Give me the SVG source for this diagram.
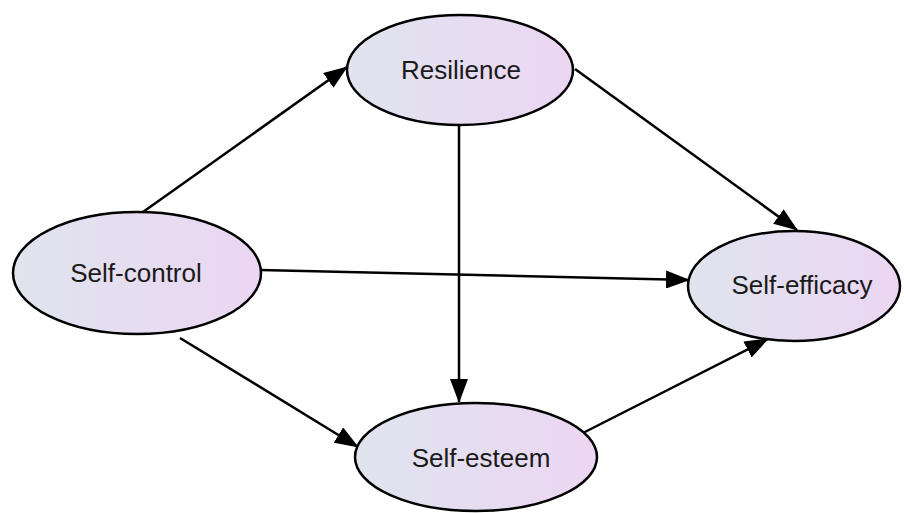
<svg xmlns="http://www.w3.org/2000/svg" width="904" height="513" viewBox="0 0 904 513">
<defs>
<linearGradient id="g" x1="0" y1="0" x2="1" y2="0">
<stop offset="0" stop-color="#dfe4ee"/>
<stop offset="1" stop-color="#ecd6f3"/>
</linearGradient>
<marker id="ah" markerUnits="userSpaceOnUse" markerWidth="24" markerHeight="18" viewBox="0 0 24 18" refX="23" refY="9" orient="auto">
<path d="M0,0 L24,9 L0,18 Z" fill="#000"/>
</marker>
<style>
.n{fill:url(#g);stroke:#000;stroke-width:2.5}
.t{font-family:"Liberation Sans",Arial,sans-serif;font-size:26px;fill:#1a1a1a;text-anchor:middle}
.e{stroke:#000;stroke-width:2.5;fill:none;marker-end:url(#ah)}
</style>
</defs>
<rect width="904" height="513" fill="#fff"/>
<g id="edges">
<line class="e" x1="143" y1="212" x2="347" y2="67"/>
<line class="e" x1="575" y1="69" x2="797" y2="230"/>
<line class="e" x1="459" y1="125" x2="459" y2="402"/>
<line class="e" x1="260" y1="270" x2="689" y2="280"/>
<line class="e" x1="180" y1="338" x2="358" y2="447"/>
<line class="e" x1="577" y1="436" x2="768" y2="339"/>
</g>
<g id="resilience">
<ellipse class="n" cx="460" cy="70" rx="113" ry="55"/>
<text class="t" x="461" y="79">Resilience</text>
</g>
<g id="self-control">
<ellipse class="n" cx="137" cy="273" rx="124" ry="61"/>
<text class="t" x="136" y="282">Self-control</text>
</g>
<g id="self-efficacy">
<ellipse class="n" cx="794" cy="286" rx="106" ry="55"/>
<text class="t" x="802" y="294">Self-efficacy</text>
</g>
<g id="self-esteem">
<ellipse class="n" cx="476" cy="457" rx="121" ry="54"/>
<text class="t" x="481" y="467">Self-esteem</text>
</g>
</svg>
